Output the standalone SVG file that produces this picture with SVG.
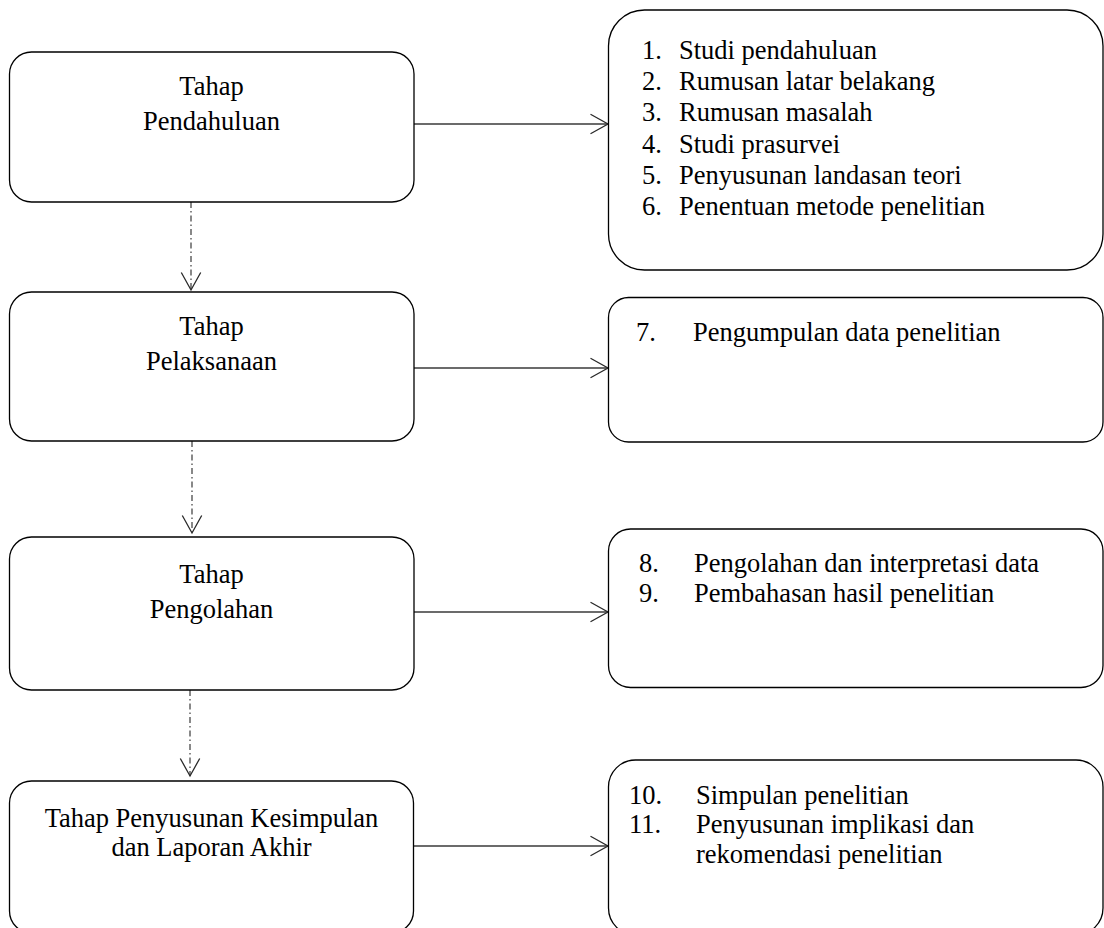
<svg xmlns="http://www.w3.org/2000/svg" width="1104" height="928" viewBox="0 0 1104 928">
<style>
.box{fill:#fff;stroke:#000;stroke-width:1.3}
.t{font-family:"Liberation Serif","Times New Roman",serif;font-size:26.5px;fill:#000}
.c{text-anchor:middle}
.h{fill:none;stroke:#3a3a3a;stroke-width:1.6}
.v{fill:none;stroke:#3a3a3a;stroke-width:1.2;stroke-dasharray:6 3 1.5 3}
</style>
<defs>
<marker id="ah" markerUnits="userSpaceOnUse" markerWidth="24" markerHeight="24" viewBox="-20 -12 24 24" refX="0" refY="0" orient="auto" overflow="visible">
<path d="M-17.5,-9.7 L0,0 L-17.5,9.7" fill="none" stroke="#2a2a2a" stroke-width="1.3"/>
</marker>
</defs>
<rect width="1104" height="928" fill="#fff"/>
<g id="connectors">
<line class="h" x1="414" y1="124" x2="608" y2="124" marker-end="url(#ah)"/>
<line class="h" x1="414" y1="368" x2="608" y2="368" marker-end="url(#ah)"/>
<line class="h" x1="414" y1="612" x2="608" y2="612" marker-end="url(#ah)"/>
<line class="h" x1="413" y1="846" x2="608" y2="846" marker-end="url(#ah)"/>
<line class="v" x1="191" y1="202" x2="191" y2="290" marker-end="url(#ah)"/>
<line class="v" x1="192" y1="441" x2="192" y2="533" marker-end="url(#ah)"/>
<line class="v" x1="190" y1="690" x2="190" y2="776" marker-end="url(#ah)"/>
</g>
<g id="n1">
<rect class="box" x="9.5" y="52" width="404.5" height="150" rx="22"/>
<text class="t c" x="211.5" y="95">Tahap</text>
<text class="t c" x="211.5" y="130">Pendahuluan</text>
</g>
<g id="n2">
<rect class="box" x="9.5" y="292" width="404.5" height="149" rx="22"/>
<text class="t c" x="211.5" y="335">Tahap</text>
<text class="t c" x="211.5" y="370">Pelaksanaan</text>
</g>
<g id="n3">
<rect class="box" x="9.5" y="537" width="404.5" height="153" rx="22"/>
<text class="t c" x="211.5" y="583">Tahap</text>
<text class="t c" x="211.5" y="618">Pengolahan</text>
</g>
<g id="n4">
<rect class="box" x="9.5" y="781" width="404" height="152" rx="22"/>
<text class="t c" x="211.5" y="827">Tahap Penyusunan Kesimpulan</text>
<text class="t c" x="211.5" y="856">dan Laporan Akhir</text>
</g>
<g id="r1">
<rect class="box" x="608.5" y="10" width="494.5" height="260" rx="36"/>
<text class="t" x="642" y="59">1.</text><text class="t" x="679" y="59">Studi pendahuluan</text>
<text class="t" x="642" y="90.2">2.</text><text class="t" x="679" y="90.2">Rumusan latar belakang</text>
<text class="t" x="642" y="121.4">3.</text><text class="t" x="679" y="121.4">Rumusan masalah</text>
<text class="t" x="642" y="152.6">4.</text><text class="t" x="679" y="152.6">Studi prasurvei</text>
<text class="t" x="642" y="183.8">5.</text><text class="t" x="679" y="183.8">Penyusunan landasan teori</text>
<text class="t" x="642" y="215">6.</text><text class="t" x="679" y="215">Penentuan metode penelitian</text>
</g>
<g id="r2">
<rect class="box" x="608.5" y="297.5" width="494.5" height="144.5" rx="20"/>
<text class="t" x="636" y="341">7.</text><text class="t" x="693" y="341">Pengumpulan data penelitian</text>
</g>
<g id="r3">
<rect class="box" x="608.5" y="529" width="494.5" height="158.5" rx="22"/>
<text class="t" x="639" y="572">8.</text><text class="t" x="694" y="572">Pengolahan dan interpretasi data</text>
<text class="t" x="639" y="602">9.</text><text class="t" x="694" y="602">Pembahasan hasil penelitian</text>
</g>
<g id="r4">
<rect class="box" x="608.5" y="760" width="494.5" height="175" rx="27"/>
<text class="t" x="629" y="804">10.</text><text class="t" x="696" y="804">Simpulan penelitian</text>
<text class="t" x="629" y="833">11.</text><text class="t" x="696" y="833">Penyusunan implikasi dan</text>
<text class="t" x="696" y="863">rekomendasi penelitian</text>
</g>
</svg>
